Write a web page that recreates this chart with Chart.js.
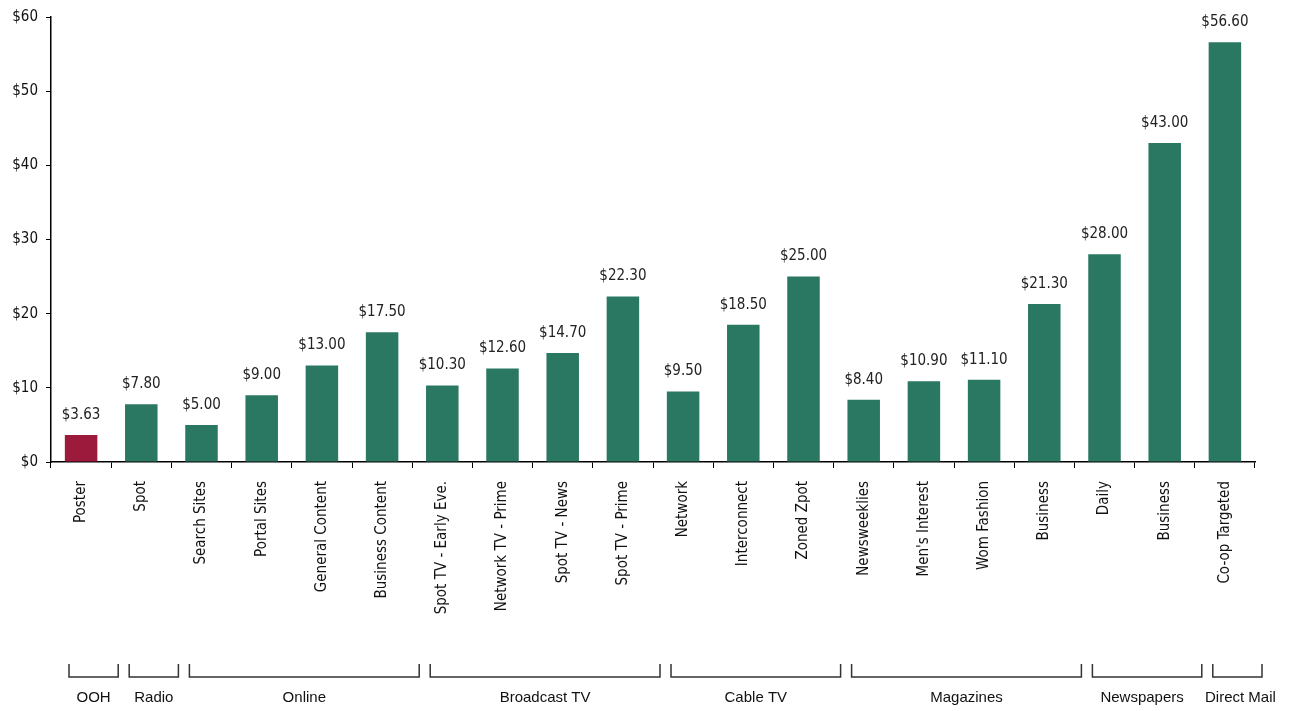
<!DOCTYPE html>
<html>
<head>
<meta charset="utf-8">
<script src="https://cdn.jsdelivr.net/npm/chart.js@4/dist/chart.umd.min.js"></script>
<style>
  html, body { margin: 0; padding: 0; background: #fff; }
  #wrap { width: 1299px; height: 711px; position: relative; }
</style>
</head>
<body>
<div id="wrap"><canvas id="myChart"></canvas></div>
<script>
var categories = ["Poster", "Spot", "Search Sites", "Portal Sites", "General Content", "Business Content",
    "Spot TV - Early Eve.", "Network TV - Prime", "Spot TV - News", "Spot TV - Prime",
    "Network", "Interconnect", "Zoned Zpot",
    "Newsweeklies", "Men's Interest", "Wom Fashion", "Business",
    "Daily", "Business", "Co-op Targeted"];
var costValues = [3.63, 7.80, 5.00, 9.00, 13.00, 17.50, 10.30, 12.60, 14.70, 22.30,
    9.50, 18.50, 25.00, 8.40, 10.90, 11.10, 21.30, 28.00, 43.00, 56.60];
var groupNames = ["OOH", "Radio", "Online", "Broadcast TV", "Cable TV", "Magazines", "Newspapers", "Direct Mail"];
var groupSizes = [1, 1, 4, 4, 3, 4, 2, 1];
var yTicks = [0, 10, 20, 30, 40, 50, 60];

var barColors = costValues.map(function (v, i) { return i === 0 ? "#9c1a3c" : "#2a7862"; });
var narrow = "'Liberation Sans Narrow', 'DejaVu Sans Condensed', sans-serif";

// value labels above each bar
var valueLabels = {
    id: "valueLabels",
    afterDatasetsDraw: function (chart) {
        var ctx = chart.ctx;
        var meta = chart.getDatasetMeta(0);
        ctx.save();
        ctx.font = "15px " + narrow;
        ctx.fillStyle = "#222";
        ctx.textAlign = "center";
        ctx.textBaseline = "middle";
        meta.data.forEach(function (bar, i) {
            ctx.fillText("$" + costValues[i].toFixed(2), bar.x, bar.y - 20);
        });
        ctx.restore();
    }
};

// group brackets under the category labels
var groupBrackets = {
    id: "groupBrackets",
    afterDraw: function (chart) {
        var ctx = chart.ctx;
        var xs = chart.scales.x;
        var step = (xs.right - xs.left) / categories.length;
        var start = 0;
        ctx.save();
        ctx.strokeStyle = "#333";
        ctx.lineWidth = 1.5;
        ctx.fillStyle = "#111";
        ctx.font = "15px 'Liberation Sans', Arial, sans-serif";
        ctx.textAlign = "center";
        ctx.textBaseline = "middle";
        groupSizes.forEach(function (n, g) {
            var x1 = xs.left + start * step + 18;
            var x2 = xs.left + (start + n) * step + 7;
            ctx.beginPath();
            ctx.moveTo(x1, 664);
            ctx.lineTo(x1, 677);
            ctx.lineTo(x2, 677);
            ctx.lineTo(x2, 664);
            ctx.stroke();
            var cx = (x1 + x2) / 2;
            if (groupNames[g] === "Newspapers") cx -= 5;
            if (groupNames[g] === "Direct Mail") cx += 3;
            ctx.fillText(groupNames[g], cx, 698);
            start += n;
        });
        ctx.restore();
    }
};

new Chart("myChart", {
    type: "bar",
    data: {
        labels: categories,
        datasets: [{
            data: costValues,
            backgroundColor: barColors,
            barPercentage: 0.54,
            categoryPercentage: 1.0
        }]
    },
    options: {
        responsive: true,
        maintainAspectRatio: false,
        animation: false,
        layout: { padding: { top: 8, right: 44, left: 0, bottom: 0 } },
        plugins: {
            legend: { display: false },
            tooltip: { enabled: false }
        },
        scales: {
            y: {
                min: 0,
                max: 60,
                afterFit: function (scale) { scale.width = 51; },
                afterBuildTicks: function (scale) {
                    scale.ticks = yTicks.map(function (v) { return { value: v }; });
                },
                border: { display: true, color: "#000", width: 1.5 },
                grid: { drawOnChartArea: false, drawTicks: true, tickLength: 5, color: "#000" },
                ticks: {
                    color: "#111",
                    padding: 8,
                    font: { family: narrow, size: 15 },
                    callback: function (v) { return "$" + v; }
                }
            },
            x: {
                afterFit: function (scale) { scale.height = 249; },
                border: { display: true, color: "#000", width: 1.5 },
                grid: { drawOnChartArea: false, drawTicks: true, tickLength: 6, color: "#000", offset: true },
                ticks: {
                    color: "#111",
                    padding: 13,
                    minRotation: 90,
                    maxRotation: 90,
                    autoSkip: false,
                    font: { family: narrow, size: 15 }
                }
            }
        }
    },
    plugins: [valueLabels, groupBrackets]
});
</script>
</body>
</html>
